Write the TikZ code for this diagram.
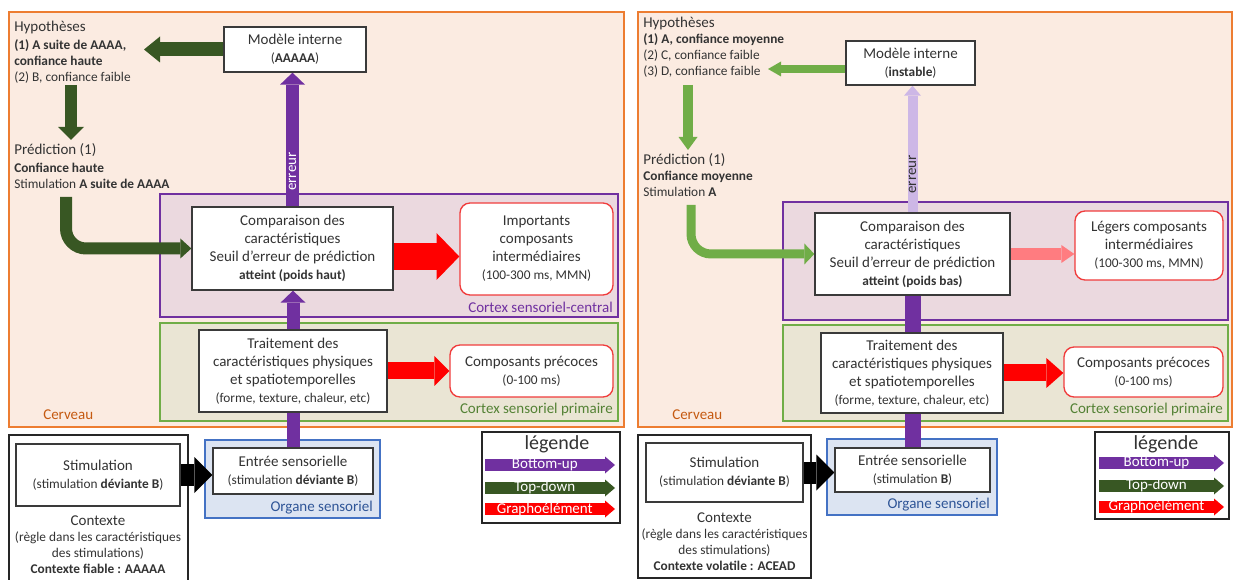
\documentclass[tikz,border=0pt]{standalone}
\usepackage{fontspec}
\setmainfont{Carlito}
\usetikzlibrary{arrows.meta,calc}
\definecolor{txt}{HTML}{333333}
\definecolor{boxc}{HTML}{3A3A3A}
\definecolor{peach}{HTML}{FBEBE1}
\definecolor{orng}{HTML}{ED7D31}
\definecolor{cerv}{HTML}{C55A11}
\definecolor{purf}{HTML}{EBD9DF}
\definecolor{pur}{HTML}{7030A0}
\definecolor{lpur}{HTML}{CDB7E6}
\definecolor{grnf}{HTML}{EAE5D4}
\definecolor{grnb}{HTML}{70AD47}
\definecolor{grnl}{HTML}{548235}
\definecolor{bluf}{HTML}{DCE4F2}
\definecolor{blub}{HTML}{4472C4}
\definecolor{blul}{HTML}{2F5597}
\definecolor{dgrn}{HTML}{385723}
\definecolor{lgrn}{HTML}{70AD47}
\definecolor{redc}{HTML}{FF0000}
\definecolor{lred}{HTML}{FF7C80}
\definecolor{redb}{HTML}{F03C3C}
\newcommand\fmain{\fontsize{11.25pt}{13.5pt}\selectfont}
\newcommand\fsm{\fontsize{10pt}{12pt}\selectfont}
\pgfdeclarelayer{bg}
\pgfdeclarelayer{arr}
\pgfsetlayers{bg,arr,main}
\begin{document}
\begin{tikzpicture}[x=0.75pt,y=-0.75pt,
  every node/.style={text=txt},
  box/.style={draw=boxc, line width=1pt, fill=white, inner sep=0pt, align=center, font=\fmain,
    execute at begin node={\rule{0pt}{11pt}}},
  rbox/.style={box, draw=redb, rounded corners=7.5pt},
  ftext/.style={align=left, font=\fsm, inner sep=0pt, anchor=west},
  ctext/.style={align=center, font=\fsm, inner sep=0pt},
  region/.style={line width=1.5pt},
  lab/.style={font=\fmain, inner sep=0pt, anchor=east},
  blk/.style n args={3}{line width=#1,-{Triangle[width=#2,length=#3,line width=0pt]}},
  lgtxt/.style={text=white, font=\fmain, inner sep=0pt},
  ttl/.style={font=\fontsize{15pt}{18pt}\selectfont, inner sep=0pt}
]
\useasboundingbox (0,0) rectangle (1234,580);

% ================= LEFT PANEL nodes =================
\node[ftext] (hypL) at (14,52) {{\fmain Hypothèses}\\[1.5pt]\textbf{(1) A suite de AAAA,}\\\textbf{confiance haute}\\(2) B, confiance faible};
\node[ftext] (predL) at (14,166) {{\fmain Prédiction (1)}\\[1.5pt]\textbf{Confiance haute}\\Stimulation \textbf{A suite de AAAA}};
\node[box, minimum width=106.5pt, minimum height=33.75pt] (modL) at (295,49.5) {Modèle interne\\{\fsm(\textbf{AAAAA})}};
\node[box, minimum width=150.75pt, minimum height=62.25pt] (cmpL) at (292.5,248.5) {Comparaison des\\caractéristiques\\Seuil d’erreur de prédiction\\{\fsm\textbf{atteint (poids haut)}}};
\node[rbox, minimum width=114.75pt, minimum height=69pt] (impL) at (536.5,249) {Importants\\composants\\intermédiaires\\{\fsm(100-300 ms, MMN)}};
\node[box, minimum width=141pt, minimum height=61.5pt] (trtL) at (293,371) {Traitement des\\caractéristiques physiques\\et spatiotemporelles\\{\fsm(forme, texture, chaleur, etc)}};
\node[rbox, minimum width=122.25pt, minimum height=39pt] (preL) at (531.5,371) {Composants précoces\\{\fsm(0-100 ms)}};
\node[box, minimum width=120pt, minimum height=34.5pt] (entL) at (293,471) {Entrée sensorielle\\{\fsm(stimulation \textbf{déviante B})}};
\node[box, minimum width=123pt, minimum height=46.5pt] (stmL) at (98,475) {Stimulation\\{\fsm(stimulation \textbf{déviante B})}};
\node[ctext] (ctxL) at (98,545) {{\fmain Contexte}\\(règle dans les caractéristiques\\des stimulations)\\\textbf{Contexte fiable : AAAAA}};
\node[lab, anchor=west, text=cerv] (cervL) at (43,415) {Cerveau};
\node[lab, text=pur] (cscL) at (613,307) {Cortex sensoriel-central};
\node[lab, text=grnl] (cspL) at (613,410) {Cortex sensoriel primaire};
\node[lab, text=blul] (orgL) at (373,508) {Organe sensoriel};
\node[ttl] (ttlL) at (557,444) {légende};

% ================= RIGHT PANEL nodes =================
\node[ftext] (hypR) at (643,47) {{\fmain Hypothèses}\\\textbf{(1) A, confiance moyenne}\\(2) C, confiance faible\\(3) D, confiance faible};
\node[ftext] (predR) at (643,175) {{\fmain Prédiction (1)}\\\textbf{Confiance moyenne}\\Stimulation \textbf{A}};
\node[box, minimum width=96.75pt, minimum height=33pt] (modR) at (910.5,63) {Modèle interne\\{\fsm(\textbf{instable})}};
\node[box, minimum width=146.25pt, minimum height=61.5pt] (cmpR) at (912.5,254) {Comparaison des\\caractéristiques\\Seuil d’erreur de prédiction\\{\fsm\textbf{atteint (poids bas)}}};
\node[rbox, minimum width=111pt, minimum height=51.75pt] (lgrR) at (1149,245.5) {Légers composants\\intermédiaires\\{\fsm(100-300 ms, MMN)}};
\node[box, minimum width=136.5pt, minimum height=60pt] (trtR) at (912,373) {Traitement des\\caractéristiques physiques\\et spatiotemporelles\\{\fsm(forme, texture, chaleur, etc)}};
\node[rbox, minimum width=119.25pt, minimum height=37.5pt] (preR) at (1143.5,372) {Composants précoces\\{\fsm(0-100 ms)}};
\node[box, minimum width=116.25pt, minimum height=33pt] (entR) at (912.5,470) {Entrée sensorielle\\{\fsm(stimulation \textbf{B})}};
\node[box, minimum width=117.75pt, minimum height=44.25pt] (stmR) at (724.5,472.5) {Stimulation\\{\fsm(stimulation \textbf{déviante B})}};
\node[ctext] (ctxR) at (724.5,542) {{\fmain Contexte}\\(règle dans les caractéristiques\\des stimulations)\\\textbf{Contexte volatile : ACEAD}};
\node[lab, anchor=west, text=cerv] (cervR) at (672,415) {Cerveau};
\node[lab, text=grnl] (cspR) at (1223,410) {Cortex sensoriel primaire};
\node[lab, text=blul] (orgR) at (990,505) {Organe sensoriel};
\node[ttl] (ttlR) at (1166,444) {légende};

% ================= regions =================
\begin{pgfonlayer}{bg}
\fill[white] (0,0) rectangle (1234,580);
\draw[region, draw=orng, fill=peach] (9,12) rectangle (624,427);
\draw[region, draw=pur, fill=purf] (160,194) rectangle (618,317);
\draw[region, draw=grnb, fill=grnf] (160,323) rectangle (618,421);
\draw[region, draw=blub, fill=bluf] (205,440) rectangle (380,518);
\draw[line width=1.5pt, draw=black!85, fill=white] (9,435) rectangle (188,585);
\draw[line width=1.8pt, draw=black!85, fill=white] (482,432) rectangle (620,523);
\draw[region, draw=orng, fill=peach] (638,12) rectangle (1232,427);
\draw[region, draw=pur, fill=purf] (783,202) rectangle (1228,320);
\draw[region, draw=grnb, fill=grnf] (783,325) rectangle (1228,421);
\draw[region, draw=blub, fill=bluf] (827,439) rectangle (997,515);
\draw[line width=1.5pt, draw=black!85, fill=white] (638,435) rectangle (811,578);
\draw[line width=1.8pt, draw=black!85, fill=white] (1095,432) rectangle (1229,519);
\end{pgfonlayer}

% ================= arrows =================
\begin{pgfonlayer}{arr}
% left
\coordinate (hL) at (144,49.5);
\draw[blk={10.5pt}{19.5pt}{12pt}, dgrn] (modL.west) -- (hL);
\coordinate (h1L) at (71,85);
\coordinate (p1L) at (71,140);
\draw[blk={9pt}{19.5pt}{9.75pt}, dgrn] (h1L) -- (p1L);
\coordinate (p2L) at (66,197);
\draw[blk={9pt}{15pt}{8.25pt}, dgrn, rounded corners=15pt] (p2L) |- (cmpL.west);
\draw[blk={9.75pt}{18.75pt}{9pt}, pur] (cmpL.north) -- (cmpL.north |- modL.south)
  node[pos=0.26, rotate=90, text=white, font=\fmain, inner sep=0pt] {erreur};
\coordinate (rL1) at ($(cmpL.east)+(0,8)$);
\draw[blk={20pt}{35pt}{17pt}, redc] (rL1) -- (rL1 -| impL.west);
\draw[blk={12.75pt}{22.5pt}{11.25pt}, redc] (trtL.east) -- (trtL.east -| preL.west);
\draw[blk={9.75pt}{18.75pt}{9pt}, pur] (trtL.north) -- (trtL.north |- cmpL.south);
\draw[line width=9.75pt, pur] (entL.north) -- (entL.north |- trtL.south);
\draw[blk={16.5pt}{27pt}{13.5pt}, black] (stmL.east) -- (stmL.east -| entL.west);
% left legend
\coordinate (la1) at (485,465); \coordinate (lb1) at (615,465);
\coordinate (la2) at (485,488); \coordinate (lb2) at (615,488);
\coordinate (la3) at (485,509); \coordinate (lb3) at (615,509);
\draw[blk={8.5pt}{12.75pt}{7.5pt}, pur] (la1) -- (lb1) node[pos=0.46, lgtxt] {Bottom-up};
\draw[blk={8.5pt}{12.75pt}{7.5pt}, dgrn] (la2) -- (lb2) node[pos=0.46, lgtxt] {Top-down};
\draw[blk={8.5pt}{12.75pt}{7.5pt}, redc] (la3) -- (lb3) node[pos=0.46, lgtxt] {Graphoélément};
% right
\coordinate (gR) at ($(modR.west)+(0,6)$);
\coordinate (hR) at (768,69);
\draw[blk={6pt}{11.25pt}{9.75pt}, lgrn] (gR) -- (hR);
\coordinate (h1R) at (688,85);
\coordinate (p1R) at (688,150);
\draw[blk={7.5pt}{14.25pt}{9.75pt}, lgrn] (h1R) -- (p1R);
\coordinate (p2R) at (691,205);
\draw[blk={6.75pt}{15.75pt}{7.5pt}, lgrn, rounded corners=15pt] (p2R) |- (cmpR.west);
\draw[blk={7.5pt}{12.75pt}{7.5pt}, lpur] (cmpR.north) -- (cmpR.north |- modR.south)
  node[pos=0.3, rotate=90, font=\fmain, inner sep=0pt] {erreur};
\draw[line width=12pt, pur] (entR.north) -- (entR.north |- cmpR.south);
\draw[blk={9pt}{13.5pt}{9.75pt}, lred] (cmpR.east) -- (cmpR.east -| lgrR.west);
\draw[blk={12.75pt}{22.5pt}{12.75pt}, redc] (trtR.east) -- (trtR.east -| preR.west);
\draw[blk={16.5pt}{27pt}{13.5pt}, black] (stmR.east) -- (stmR.east -| entR.west);
% right legend
\coordinate (ra1) at (1099,463); \coordinate (rb1) at (1224,463);
\coordinate (ra2) at (1099,486); \coordinate (rb2) at (1224,486);
\coordinate (ra3) at (1099,507); \coordinate (rb3) at (1224,507);
\draw[blk={8.5pt}{12.75pt}{7.5pt}, pur] (ra1) -- (rb1) node[pos=0.46, lgtxt] {Bottom-up};
\draw[blk={8.5pt}{12.75pt}{7.5pt}, dgrn] (ra2) -- (rb2) node[pos=0.46, lgtxt] {Top-down};
\draw[blk={8.5pt}{12.75pt}{7.5pt}, redc] (ra3) -- (rb3) node[pos=0.46, lgtxt] {Graphoélément};
\end{pgfonlayer}
\end{tikzpicture}
\end{document}
